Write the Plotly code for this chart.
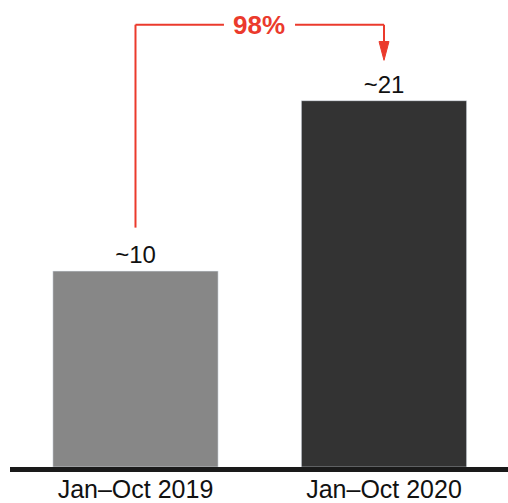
import plotly.graph_objects as go

categories = ["Jan–Oct 2019", "Jan–Oct 2020"]
values = [10.0, 18.7]
value_labels = ["~10", "~21"]
change_label = "98%"

_RED = "#EB3A2C"
_COLORS = ["#878787", "#333333"]

x_pos = list(range(len(categories)))

fig = go.Figure(go.Bar(
    x=x_pos,
    y=values,
    marker_color=_COLORS,
    width=0.665,
    text=value_labels,
    textposition="outside",
    textfont=dict(color="#111111", size=24),
    cliponaxis=False,
    showlegend=False,
))

# bracket from the first bar, across the top, down onto the second
y_top = 22.58
y_start = values[0] + 2.22
y_tip = values[1] + 2.06
head_len = 0.96
head_half = 0.020
line = dict(color=_RED, width=2)
fig.add_shape(type="line", xref="x", yref="y",
              x0=x_pos[0], x1=x_pos[0], y0=y_start, y1=y_top, line=line)
fig.add_shape(type="line", xref="x", yref="y",
              x0=x_pos[0], x1=x_pos[1], y0=y_top, y1=y_top, line=line)
fig.add_shape(type="line", xref="x", yref="y",
              x0=x_pos[1], x1=x_pos[1], y0=y_top, y1=y_tip + head_len, line=line)
fig.add_shape(type="path", xref="x", yref="y",
              path=f"M {x_pos[1] - head_half},{y_tip + head_len} "
                   f"L {x_pos[1] + head_half},{y_tip + head_len} "
                   f"L {x_pos[1]},{y_tip} Z",
              fillcolor=_RED, line=dict(color=_RED, width=1))
# white gap in the bracket behind the label
fig.add_shape(type="rect", xref="x", yref="y",
              x0=0.356, x1=0.642, y0=y_top - 0.4, y1=y_top + 0.4,
              fillcolor="white", line=dict(width=0), layer="above")
fig.add_annotation(x=0.495, y=y_top, xref="x", yref="y",
                   text=f"<b>{change_label}</b>", showarrow=False,
                   font=dict(color=_RED, size=26, family="Liberation Sans, Arial"),
                   xanchor="center", yanchor="middle")

fig.update_layout(
    width=508, height=503,
    paper_bgcolor="white",
    plot_bgcolor="white",
    font=dict(family="Liberation Sans, Arial", color="#111111", size=25),
    margin=dict(l=10, r=0, t=0, b=31),
    xaxis=dict(
        range=[-0.505, 1.499],
        tickvals=x_pos, ticktext=categories,
        showline=True, linewidth=5, linecolor="#1A1A1A",
        showgrid=False, zeroline=False, ticks="",
        ticklabelstandoff=-4,
        tickfont=dict(size=25, color="#111111"),
    ),
    yaxis=dict(
        range=[0, 23.84],
        visible=False,
        showgrid=False, zeroline=False,
    ),
)

# drop the default page margin so the figure fills the window
fig.write_html(
    "out.html",
    config={"displayModeBar": False},
    post_script="document.body.style.margin='0';"
                "document.documentElement.style.overflow='hidden';",
)
